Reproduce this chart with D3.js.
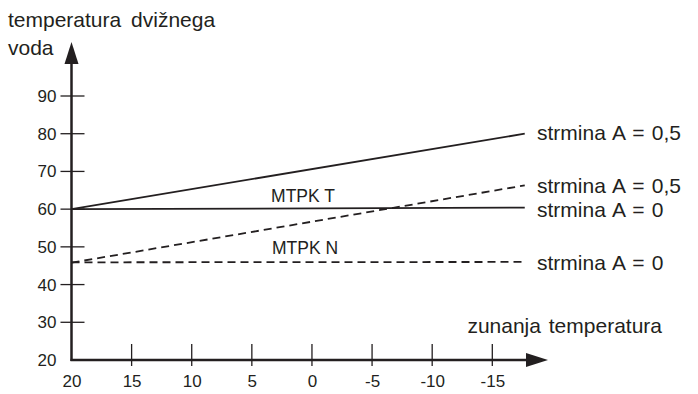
<!DOCTYPE html>
<html><head><meta charset="utf-8">
<script src="https://cdn.jsdelivr.net/npm/d3@7"></script>
<style>
html,body{margin:0;padding:0;background:#fff;}
svg text{font-family:"Liberation Sans",Arial,Helvetica,sans-serif;fill:#231f20;}
</style></head>
<body><svg id="c" width="698" height="394"></svg>
<script>
// data
const xTicks = [20, 15, 10, 5, 0, -5, -10, -15];
const yTicks = [20, 30, 40, 50, 60, 70, 80, 90];
const outsideTemp = [20, -17.7];
const mtpkT_A05 = [60, 80];
const mtpkT_A0 = [60, 60.4];
const mtpkN_A05 = [45.8, 66.3];
const mtpkN_A0 = [45.9, 46];
const seriesLabels = ["strmina A = 0,5", "strmina A = 0,5", "strmina A = 0", "strmina A = 0"];
const yTitle = ["temperatura dvižnega", "voda"];
const xTitle = "zunanja temperatura";
const groupLabels = ["MTPK T", "MTPK N"];

const svg = d3.select("#c");
const ink = "#231f20";
const x = d3.scaleLinear().domain([20, -15]).range([71.5, 492.3]);
const y = d3.scaleLinear().domain([20, 90]).range([360, 96]);
const x0 = x(20), y0 = y(20);

// axes lines
svg.append("line").attr("x1", x0).attr("x2", x0).attr("y1", y0 + 1).attr("y2", 60)
  .attr("stroke", ink).attr("stroke-width", 2.5);
svg.append("line").attr("x1", x0 - 1).attr("x2", 530).attr("y1", y0).attr("y2", y0)
  .attr("stroke", ink).attr("stroke-width", 2.5);
// arrowheads
svg.append("path").attr("d", `M${x0},42 L${x0-7},64 L${x0+7},64 Z`).attr("fill", ink);
svg.append("path").attr("d", `M548,${y0} L526,${y0-7} L526,${y0+7} Z`).attr("fill", ink);

const fmt = d => String(d);

// y ticks
const yAxis = d3.axisLeft(y).tickValues(yTicks).tickSize(0).tickPadding(15).tickFormat(fmt);
const gy = svg.append("g").attr("transform", `translate(${x0},0)`).call(yAxis);
gy.select(".domain").remove();
gy.selectAll("text").style("font-size", "17px").attr("fill", ink);
svg.selectAll(".ytk").data(yTicks.filter(d => d > 20)).join("line")
  .attr("x1", x0 - 11).attr("x2", x0 + 13).attr("y1", d => y(d)).attr("y2", d => y(d))
  .attr("stroke", ink).attr("stroke-width", 1.3);

// x ticks
const xAxis = d3.axisBottom(x).tickValues(xTicks).tickSize(0).tickPadding(15).tickFormat(fmt);
const gx = svg.append("g").attr("transform", `translate(0,${y0})`).call(xAxis);
gx.select(".domain").remove();
gx.selectAll("text").style("font-size", "17px").attr("fill", ink);
svg.selectAll(".xtk").data(xTicks.filter(d => d < 20)).join("line")
  .attr("x1", d => x(d)).attr("x2", d => x(d)).attr("y1", y0 - 16).attr("y2", y0 + 6)
  .attr("stroke", ink).attr("stroke-width", 1.3);

// series lines
const series = [
  {v: mtpkT_A05, dash: null, lab: seriesLabels[0]},
  {v: mtpkN_A05, dash: "8,5", lab: seriesLabels[1]},
  {v: mtpkT_A0, dash: null, lab: seriesLabels[2]},
  {v: mtpkN_A0, dash: "8,5", lab: seriesLabels[3]},
];
const line = d3.line().x((d, i) => x(outsideTemp[i])).y(d => y(d));
series.forEach(s => {
  svg.append("path").attr("d", line(s.v)).attr("fill", "none").attr("stroke", ink)
    .attr("stroke-width", 1.8).attr("stroke-dasharray", s.dash);
});
const labY = [133, 186, 210, 263];
series.forEach((s, i) => {
  svg.append("text").attr("x", 537).attr("y", labY[i]).attr("dy", "0.35em")
    .style("font-size", "21px").style("word-spacing", "1.5px").text(s.lab);
});

// group labels
svg.append("text").attr("x", 303).attr("y", 196).attr("dy", "0.35em").attr("text-anchor", "middle")
  .style("font-size", "17.5px").text(groupLabels[0]);
svg.append("text").attr("x", 305).attr("y", 248).attr("dy", "0.35em").attr("text-anchor", "middle")
  .style("font-size", "17.5px").text(groupLabels[1]);

// titles
svg.append("text").attr("x", 662).attr("y", 326).attr("dy", "0.35em").attr("text-anchor", "end")
  .style("font-size", "21px").style("word-spacing", "2px").text(xTitle);
svg.append("text").attr("x", 8).attr("y", 20).attr("dy", "0.35em")
  .style("font-size", "21px").style("word-spacing", "4px").text(yTitle[0]);
svg.append("text").attr("x", 8).attr("y", 48).attr("dy", "0.35em")
  .style("font-size", "21px").text(yTitle[1]);
</script></body></html>
